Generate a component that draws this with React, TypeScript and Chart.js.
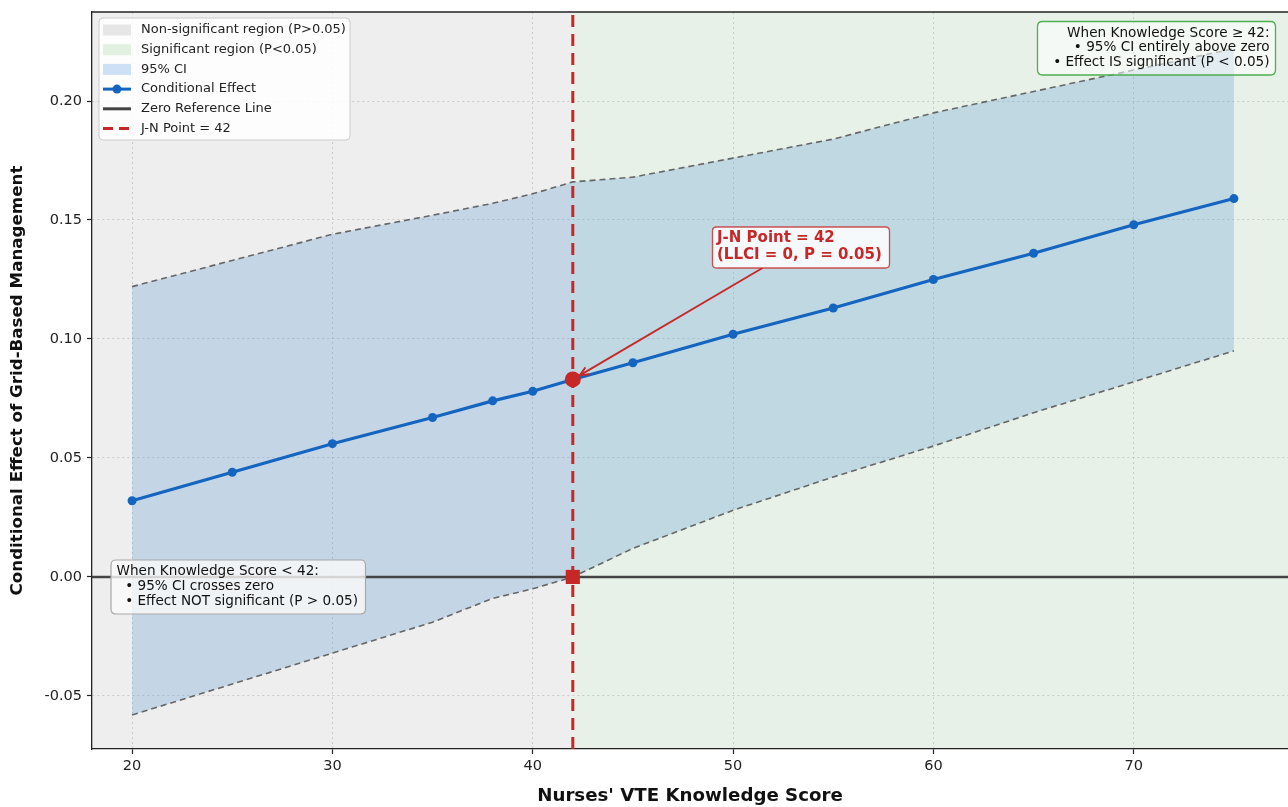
import React, { useEffect, useRef } from "react";
import { Chart, registerables } from "chart.js";

Chart.register(...registerables);

// ---------------- DATA ----------------
const scores = [20, 25, 30, 35, 38, 40, 42, 45, 50, 55, 60, 65, 70, 75];
const effect = [0.032, 0.044, 0.056, 0.067, 0.074, 0.078, 0.083, 0.09, 0.102, 0.113, 0.125, 0.136, 0.148, 0.159];
const upperCI = [0.122, 0.133, 0.144, 0.152, 0.157, 0.161, 0.166, 0.168, 0.176, 0.184, 0.195, 0.204, 0.213, 0.222];
const lowerCI = [-0.058, -0.045, -0.032, -0.019, -0.009, -0.005, 0.0, 0.012, 0.028, 0.042, 0.055, 0.069, 0.082, 0.095];
const jnPoint = 42;
const jnEffect = 0.083;
const xTicks = [20, 30, 40, 50, 60, 70];
const yTicks = [-0.05, 0.0, 0.05, 0.1, 0.15, 0.2];
const xRange = [18, 77.7];
const yRange = [-0.0723, 0.2374];

const legendLabels = [
  "Non-significant region (P>0.05)",
  "Significant region (P<0.05)",
  "95% CI",
  "Conditional Effect",
  "Zero Reference Line",
  "J-N Point = 42",
];
const jnLabel = ["J-N Point = 42", "(LLCI = 0, P = 0.05)"];
const lowNote = ["When Knowledge Score < 42:", "  • 95% CI crosses zero", "  • Effect NOT significant (P > 0.05)"];
const highNote = ["When Knowledge Score ≥ 42:", "• 95% CI entirely above zero", "• Effect IS significant (P < 0.05)"];
const xTitle = "Nurses' VTE Knowledge Score";
const yTitle = "Conditional Effect of Grid-Based Management";

// ---------------- STYLE ----------------
const FONT = "DejaVu Sans";
const C_GRAY_BG = "#eeeeee";
const C_GREEN_BG = "#e8f1e8";
const C_FILL = "rgba(100,160,210,0.3)";
const C_BLUE = "#1565c0";
const C_RED = "#c62828";
const C_ZERO = "#444444";
const C_CI = "#666666";

function rr(ctx: CanvasRenderingContext2D, x: number, y: number, w: number, h: number, r: number) {
  ctx.beginPath();
  ctx.moveTo(x + r, y);
  ctx.lineTo(x + w - r, y);
  ctx.quadraticCurveTo(x + w, y, x + w, y + r);
  ctx.lineTo(x + w, y + h - r);
  ctx.quadraticCurveTo(x + w, y + h, x + w - r, y + h);
  ctx.lineTo(x + r, y + h);
  ctx.quadraticCurveTo(x, y + h, x, y + h - r);
  ctx.lineTo(x, y + r);
  ctx.quadraticCurveTo(x, y, x + r, y);
  ctx.closePath();
}

const regionsPlugin = {
  id: "regions",
  beforeDraw(chart: any) {
    const { ctx, chartArea: a, scales } = chart;
    const xj = scales.x.getPixelForValue(jnPoint);
    ctx.save();
    ctx.fillStyle = C_GRAY_BG;
    ctx.fillRect(a.left, a.top, xj - a.left, a.bottom - a.top);
    ctx.fillStyle = C_GREEN_BG;
    ctx.fillRect(xj, a.top, a.right - xj, a.bottom - a.top);
    ctx.restore();
  },
};

const overlayPlugin = {
  id: "overlay",
  afterDraw(chart: any) {
    const { ctx, chartArea: a, scales } = chart;
    const xs = scales.x;
    const ys = scales.y;
    ctx.save();

    // top spine
    ctx.strokeStyle = "#222";
    ctx.lineWidth = 1.3;
    ctx.beginPath();
    ctx.moveTo(a.left, a.top);
    ctx.lineTo(a.right, a.top);
    ctx.stroke();

    // ---- legend ----
    const lx = 99, ly = 18, lw = 251, lh = 122;
    rr(ctx, lx, ly, lw, lh, 4);
    ctx.fillStyle = "rgba(255,255,255,0.85)";
    ctx.fill();
    ctx.strokeStyle = "#cccccc";
    ctx.lineWidth = 1;
    ctx.stroke();
    ctx.font = `13px "${FONT}"`;
    ctx.textBaseline = "middle";
    ctx.textAlign = "left";
    const sx0 = 103, sx1 = 131, tx = 141;
    legendLabels.forEach((lab, i) => {
      const y = 30 + i * 19.7;
      if (i === 0 || i === 1 || i === 2) {
        ctx.fillStyle = i === 0 ? "#e6e6e6" : i === 1 ? "#e2f0e2" : "#cde0f5";
        ctx.fillRect(sx0, y - 5.5, sx1 - sx0, 11);
      } else if (i === 3) {
        ctx.strokeStyle = C_BLUE;
        ctx.lineWidth = 3;
        ctx.beginPath();
        ctx.moveTo(sx0, y);
        ctx.lineTo(sx1, y);
        ctx.stroke();
        ctx.fillStyle = C_BLUE;
        ctx.beginPath();
        ctx.arc((sx0 + sx1) / 2, y, 4.5, 0, Math.PI * 2);
        ctx.fill();
      } else if (i === 4) {
        ctx.strokeStyle = C_ZERO;
        ctx.lineWidth = 3;
        ctx.beginPath();
        ctx.moveTo(sx0, y);
        ctx.lineTo(sx1, y);
        ctx.stroke();
      } else {
        ctx.strokeStyle = C_RED;
        ctx.lineWidth = 3;
        ctx.setLineDash([10, 6]);
        ctx.beginPath();
        ctx.moveTo(sx0, y);
        ctx.lineTo(sx1, y);
        ctx.stroke();
        ctx.setLineDash([]);
      }
      ctx.fillStyle = "#222";
      ctx.fillText(lab, tx, y);
    });

    // ---- J-N annotation ----
    const px = xs.getPixelForValue(jnPoint);
    const py = ys.getPixelForValue(jnEffect);
    const bx = 712.5, by = 227, bw = 177, bh = 41;
    const ax0 = 762.5, ay0 = by + bh;
    const dx = px - ax0, dy = py - ay0;
    const len = Math.hypot(dx, dy);
    const ux = dx / len, uy = dy / len;
    const tipX = px - ux * 8, tipY = py - uy * 8;
    ctx.strokeStyle = C_RED;
    ctx.lineWidth = 1.8;
    ctx.beginPath();
    ctx.moveTo(ax0, ay0);
    ctx.lineTo(tipX, tipY);
    ctx.stroke();
    const hl = 9, hw = 4;
    ctx.beginPath();
    ctx.moveTo(tipX - ux * hl - uy * hw, tipY - uy * hl + ux * hw);
    ctx.lineTo(tipX, tipY);
    ctx.lineTo(tipX - ux * hl + uy * hw, tipY - uy * hl - ux * hw);
    ctx.stroke();

    rr(ctx, bx, by, bw, bh, 4);
    ctx.fillStyle = "rgba(255,255,255,0.85)";
    ctx.fill();
    ctx.strokeStyle = "rgba(198,40,40,0.8)";
    ctx.lineWidth = 1.3;
    ctx.stroke();
    ctx.fillStyle = C_RED;
    ctx.font = `bold 15px "${FONT}"`;
    ctx.fillText(jnLabel[0], 717, 238.5);
    ctx.fillText(jnLabel[1], 717, 255.5);

    // ---- low note ----
    rr(ctx, 111, 560, 254.5, 54, 5);
    ctx.fillStyle = "rgba(250,250,250,0.8)";
    ctx.fill();
    ctx.strokeStyle = "#a8a8a8";
    ctx.lineWidth = 1.2;
    ctx.stroke();
    ctx.fillStyle = "#111";
    ctx.font = `13.6px "${FONT}"`;
    ctx.textAlign = "left";
    lowNote.forEach((t, i) => ctx.fillText(t, 116.5, 571 + i * 15.3));

    // ---- high note ----
    rr(ctx, 1037.5, 21.5, 238, 53.5, 5);
    ctx.fillStyle = "rgba(255,255,255,0.55)";
    ctx.fill();
    ctx.strokeStyle = "#4caf50";
    ctx.lineWidth = 1.3;
    ctx.stroke();
    ctx.fillStyle = "#111";
    ctx.textAlign = "right";
    highNote.forEach((t, i) => ctx.fillText(t, 1269.5, 33.5 + i * 14.3));

    ctx.restore();
  },
};

export default function App() {
  const ref = useRef<HTMLCanvasElement | null>(null);

  useEffect(() => {
    if (!ref.current) return;
    const pts = (ys: number[]) => scores.map((s, i) => ({ x: s, y: ys[i] }));
    const chart = new Chart(ref.current, {
      type: "line",
      data: {
        datasets: [
          {
            label: "upper",
            data: pts(upperCI),
            borderColor: C_CI,
            borderWidth: 1.6,
            borderDash: [6, 4],
            pointRadius: 0,
            fill: "+1",
            backgroundColor: C_FILL,
            order: 10,
          } as any,
          {
            label: "lower",
            data: pts(lowerCI),
            borderColor: C_CI,
            borderWidth: 1.6,
            borderDash: [6, 4],
            pointRadius: 0,
            fill: false,
            order: 9,
          },
          {
            label: "zero",
            data: [
              { x: xRange[0], y: 0 },
              { x: xRange[1], y: 0 },
            ],
            borderColor: C_ZERO,
            borderWidth: 2.6,
            pointRadius: 0,
            fill: false,
            order: 8,
          },
          {
            label: "jn line",
            data: [
              { x: jnPoint, y: yRange[0] },
              { x: jnPoint, y: yRange[1] },
            ],
            borderColor: C_RED,
            borderWidth: 3,
            borderDash: [12, 7],
            pointRadius: 0,
            fill: false,
            order: 7,
          },
          {
            label: "effect",
            data: pts(effect),
            borderColor: C_BLUE,
            backgroundColor: C_BLUE,
            borderWidth: 3.2,
            pointRadius: 4.5,
            pointBackgroundColor: C_BLUE,
            pointBorderWidth: 0,
            fill: false,
            order: 6,
          },
          {
            label: "jn zero",
            data: [{ x: jnPoint, y: 0 }],
            showLine: false,
            pointStyle: "rect",
            pointRadius: 10,
            pointBackgroundColor: C_RED,
            pointBorderWidth: 0,
            order: 5,
          },
          {
            label: "jn point",
            data: [{ x: jnPoint, y: jnEffect }],
            showLine: false,
            pointRadius: 8,
            pointBackgroundColor: C_RED,
            pointBorderWidth: 0,
            order: 4,
          },
        ],
      },
      options: {
        animation: false,
        responsive: false,
        maintainAspectRatio: false,
        layout: { autoPadding: false, padding: { top: 12, right: 0, left: 0, bottom: 0 } },
        plugins: {
          legend: { display: false },
          tooltip: { enabled: false },
          title: { display: false },
        },
        scales: {
          x: {
            type: "linear",
            min: xRange[0],
            max: xRange[1],
            afterBuildTicks: (s: any) => {
              s.ticks = xTicks.map((v) => ({ value: v }));
            },
            afterFit: (s: any) => {
              s.height = 58;
              s.paddingLeft = 0;
              s.paddingRight = 0;
            },
            grid: {
              color: "rgba(150,150,150,0.4)",
              lineWidth: 1,
              tickColor: "#222",
              tickLength: 5,
              tickWidth: 1.2,
            },
            border: { display: true, color: "#222", width: 1.3, dash: [2, 3] },
            ticks: {
              autoSkip: false,
              maxRotation: 0,
              padding: 4,
              color: "#222",
              font: { family: FONT, size: 14.5 },
              callback: (v: any) => String(v),
            },
            title: {
              display: true,
              text: xTitle,
              color: "#111",
              font: { family: FONT, size: 18.2, weight: "bold" },
              padding: { top: 0, bottom: 0 },
            },
          },
          y: {
            type: "linear",
            min: yRange[0],
            max: yRange[1],
            afterBuildTicks: (s: any) => {
              s.ticks = yTicks.map((v) => ({ value: v }));
            },
            afterFit: (s: any) => {
              s.width = 92;
              s.paddingTop = 0;
              s.paddingBottom = 0;
            },
            grid: {
              color: "rgba(150,150,150,0.4)",
              lineWidth: 1,
              tickColor: "#222",
              tickLength: 5,
              tickWidth: 1.2,
            },
            border: { display: true, color: "#222", width: 1.3, dash: [2, 3] },
            ticks: {
              autoSkip: false,
              padding: 5,
              color: "#222",
              font: { family: FONT, size: 14.5 },
              callback: (v: any) => Number(v).toFixed(2),
            },
            title: {
              display: true,
              text: yTitle,
              color: "#111",
              font: { family: FONT, size: 16.7, weight: "bold" },
              padding: { top: 8, bottom: 0 },
            },
          },
        },
      },
      plugins: [regionsPlugin, overlayPlugin],
    } as any);
    return () => chart.destroy();
  }, []);

  return (
    <div style={{ position: "fixed", left: 0, top: 0, width: 1288, height: 807 }}>
      <canvas ref={ref} width={1288} height={807} style={{ display: "block", width: 1288, height: 807 }} />
    </div>
  );
}
